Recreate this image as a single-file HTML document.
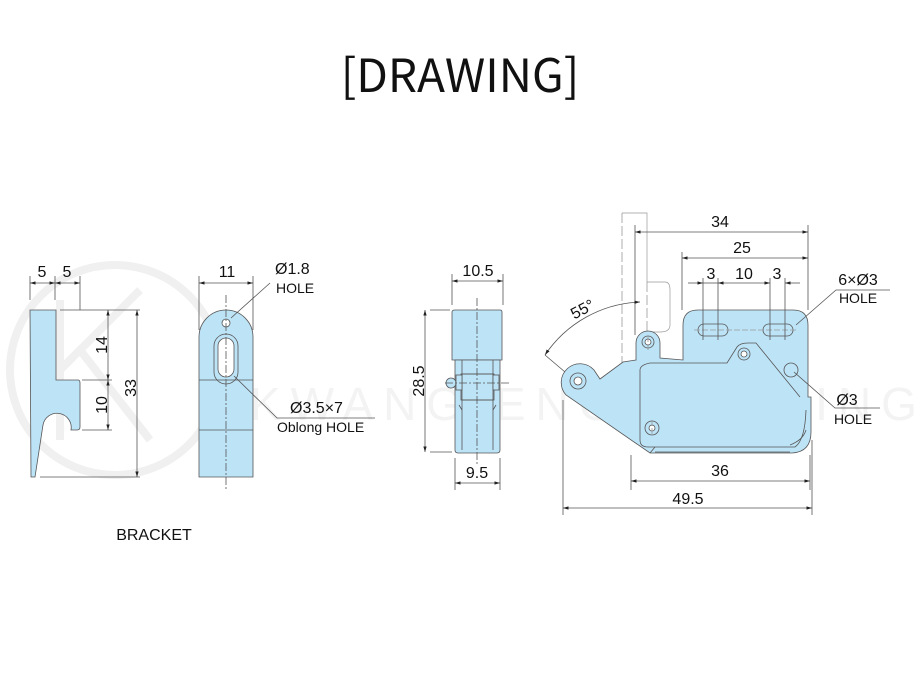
<!DOCTYPE html>
<html><head><meta charset="utf-8"><style>
html,body{margin:0;padding:0;background:#fff;}
svg{display:block;}
text{font-family:"Liberation Sans",Arial,sans-serif;fill:#111;}
</style></head><body>
<svg width="921" height="700" viewBox="0 0 921 700" xmlns="http://www.w3.org/2000/svg">
<defs>
<marker id="a" viewBox="0 0 10 10" refX="10" refY="5" markerWidth="7" markerHeight="7" orient="auto-start-reverse"><path d="M0,2 L10,5 L0,8z" fill="#222"/></marker>
</defs>
<text x="460" y="92" font-size="46" text-anchor="middle" style="font-family:'Noto Sans CJK KR','Liberation Sans',sans-serif">[DRAWING]</text>

<!-- faint watermark -->
<g fill="none" stroke="#f0f0f0" stroke-width="8">
<circle cx="115" cy="370" r="105"/>
<path d="M60 300 V440 M60 370 L140 290 M80 350 L150 440"/>
</g>
<text x="250" y="420" font-size="46" style="fill:#f3f3f3;letter-spacing:10px">KWANG ENGINEERING</text>

<g stroke="#555" stroke-width="0.8" fill="none">
<!-- bracket side -->
<path d="M30 310 H56 V380 H78 Q80 380 80 383 V427 Q80 430 77 430 H71 A14 14 0 0 0 43 425 L35 477 H31 Z" fill="#bde3f7"/>
<path d="M30 276 V300 M55 276 V300 M80 276 V310 M60 310 H140 M82 380 H112 M82 430 H112 M40 477 H140"/>
<line x1="30" y1="283" x2="55" y2="283" marker-start="url(#a)" marker-end="url(#a)"/>
<line x1="55" y1="283" x2="80" y2="283" marker-start="url(#a)" marker-end="url(#a)"/>
<line x1="108" y1="310" x2="108" y2="380" marker-start="url(#a)" marker-end="url(#a)"/>
<line x1="108" y1="380" x2="108" y2="430" marker-start="url(#a)" marker-end="url(#a)"/>
<line x1="137" y1="310" x2="137" y2="477" marker-start="url(#a)" marker-end="url(#a)"/>

<!-- front view -->
<path d="M199 337 A27 27 0 0 1 253 337 V477 H199 Z" fill="#bde3f7"/>
<circle cx="226" cy="323" r="4" fill="#fff"/>
<rect x="214" y="334" width="24" height="50" rx="12"/>
<rect x="218" y="338" width="16" height="39" rx="8" fill="#fff"/>
<path d="M199 380 H253 M199 430 H253"/>
<path d="M226 295 V490" stroke-dasharray="8 2 2 2"/>
<path d="M199 276 V330 M253 276 V330"/>
<line x1="199" y1="283" x2="253" y2="283" marker-start="url(#a)" marker-end="url(#a)"/>
<path d="M231 318 L270 283"/>
<path d="M234 376 L277 418 H375"/>

<!-- middle view -->
<path d="M452 312 Q452 310 455 310 H500 Q502 310 502 312 V360 H452 Z" fill="#bde3f7"/>
<path d="M455 360 H500 V450 Q500 453 497 453 H458 Q455 453 455 450 Z" fill="#bde3f7"/>
<path d="M462 360 V450 M493 360 V450 M462 374 H493 M462 400 H493 M459 405 L462 410 M496 405 L493 410"/>
<rect x="461" y="374" width="33" height="26" />
<circle cx="451" cy="383" r="5" fill="#bde3f7"/>
<rect x="456" y="375" width="6" height="15" fill="#bde3f7"/>
<rect x="493" y="375" width="6" height="15" fill="#bde3f7"/>
<path d="M477 298 V465" stroke-dasharray="8 2 2 2"/>
<path d="M445 383 H510" stroke-dasharray="8 2 2 2"/>
<path d="M452 274 V305 M503 274 V305 M455 458 V490 M500 458 V490 M430 310 H450 M430 452 H452"/>
<line x1="452" y1="281" x2="503" y2="281" marker-start="url(#a)" marker-end="url(#a)"/>
<line x1="455" y1="483" x2="500" y2="483" marker-start="url(#a)" marker-end="url(#a)"/>
<line x1="425" y1="310" x2="425" y2="452" marker-start="url(#a)" marker-end="url(#a)"/>

<!-- right view -->
<path d="M622 213 H647 V282 H665 Q670 282 670 290 V325 Q670 332 660 332 H652" stroke="#999" stroke-width="0.7"/>
<path d="M622 213 V385" stroke="#999" stroke-dasharray="10 3"/>
<path d="M647 282 V335" stroke="#999" stroke-dasharray="10 3"/>
<path d="M566 395 A16 16 0 0 1 594 370 L600 379 L623 362 L636 360 V343 A12 12 0 0 1 660 343 V358 L683 360 V325 Q683 310 698 310 H793 Q808 310 808 325 V397 H811 V432 Q811 452 792 453 H650 Z" fill="#bde3f7"/>
<circle cx="578" cy="381" r="8"/>
<circle cx="578" cy="381" r="4" fill="#fff"/>
<path d="M640 370 Q640 365 650 363 H727 L737 347 Q740 343 748 343 H756 L800 397" />
<path d="M640 370 V440 Q640 447 648 447 H795 Q805 440 806 410"/>
<path d="M655 447 L650 453 M790 445 Q803 440 806 430 M655 452 H790"/>
<rect x="698" y="324" width="30" height="12" rx="6"/>
<rect x="763" y="324" width="30" height="12" rx="6"/>
<circle cx="648" cy="342" r="6"/><circle cx="648" cy="342" r="3" fill="#fff"/>
<circle cx="744" cy="354" r="6"/><circle cx="744" cy="354" r="3" fill="#fff"/>
<circle cx="652" cy="428" r="7"/><circle cx="652" cy="428" r="3" fill="#fff"/>
<circle cx="791" cy="370" r="7"/>
<path d="M648 336 V350 M652 420 V436 M694 330 H797" stroke="#999" stroke-dasharray="6 2"/>
<path d="M635 225 V335 M682 252 V310 M808 225 V310 M703 278 V340 M718 278 V340 M770 278 V340 M785 278 V340 M631 455 V490 M563 400 V515 M812 440 V515 M810 455 V490"/>
<line x1="635" y1="232" x2="808" y2="232" marker-start="url(#a)" marker-end="url(#a)"/>
<line x1="682" y1="258" x2="808" y2="258" marker-start="url(#a)" marker-end="url(#a)"/>
<line x1="688" y1="283" x2="703" y2="283" marker-end="url(#a)"/>
<line x1="718" y1="283" x2="770" y2="283" marker-start="url(#a)" marker-end="url(#a)"/>
<line x1="800" y1="283" x2="785" y2="283" marker-end="url(#a)"/>
<path d="M703 283 H718"/>
<line x1="631" y1="481" x2="810" y2="481" marker-start="url(#a)" marker-end="url(#a)"/>
<line x1="563" y1="508" x2="812" y2="508" marker-start="url(#a)" marker-end="url(#a)"/>
<path d="M545 355 A120 120 0 0 1 640 302" marker-start="url(#a)" marker-end="url(#a)"/>
<path d="M545 355 L565 372"/>
<path d="M796 325 L836 290 H890"/>
<path d="M794 372 L835 408 H880"/>
</g>

<g font-size="16">
<text x="42" y="277" text-anchor="middle">5</text>
<text x="67" y="277" text-anchor="middle">5</text>
<text x="102" y="345" text-anchor="middle" transform="rotate(-90 102 345)" dy="5">14</text>
<text x="102" y="405" text-anchor="middle" transform="rotate(-90 102 405)" dy="5">10</text>
<text x="131" y="388" text-anchor="middle" transform="rotate(-90 131 388)" dy="5">33</text>
<text x="227" y="277" text-anchor="middle">11</text>
<text x="275" y="274">Ø1.8</text>
<text x="276" y="293" font-size="14">HOLE</text>
<text x="290" y="413">Ø3.5×7</text>
<text x="277" y="432" font-size="14">Oblong HOLE</text>
<text x="478" y="276" text-anchor="middle">10.5</text>
<text x="477" y="478" text-anchor="middle">9.5</text>
<text x="419" y="381" text-anchor="middle" transform="rotate(-90 419 381)" dy="5">28.5</text>
<text x="720" y="227" text-anchor="middle">34</text>
<text x="742" y="253" text-anchor="middle">25</text>
<text x="711" y="279" text-anchor="middle">3</text>
<text x="744" y="279" text-anchor="middle">10</text>
<text x="777" y="279" text-anchor="middle">3</text>
<text x="858" y="285" text-anchor="middle">6×Ø3</text>
<text x="858" y="303" text-anchor="middle" font-size="14">HOLE</text>
<text x="847" y="405" text-anchor="middle">Ø3</text>
<text x="853" y="424" text-anchor="middle" font-size="14">HOLE</text>
<text x="720" y="476" text-anchor="middle">36</text>
<text x="688" y="504" text-anchor="middle">49.5</text>
<text x="585" y="314" text-anchor="middle" transform="rotate(-28 585 314)">55°</text>
<text x="154" y="540" text-anchor="middle">BRACKET</text>
</g>
</svg>
</body></html>
